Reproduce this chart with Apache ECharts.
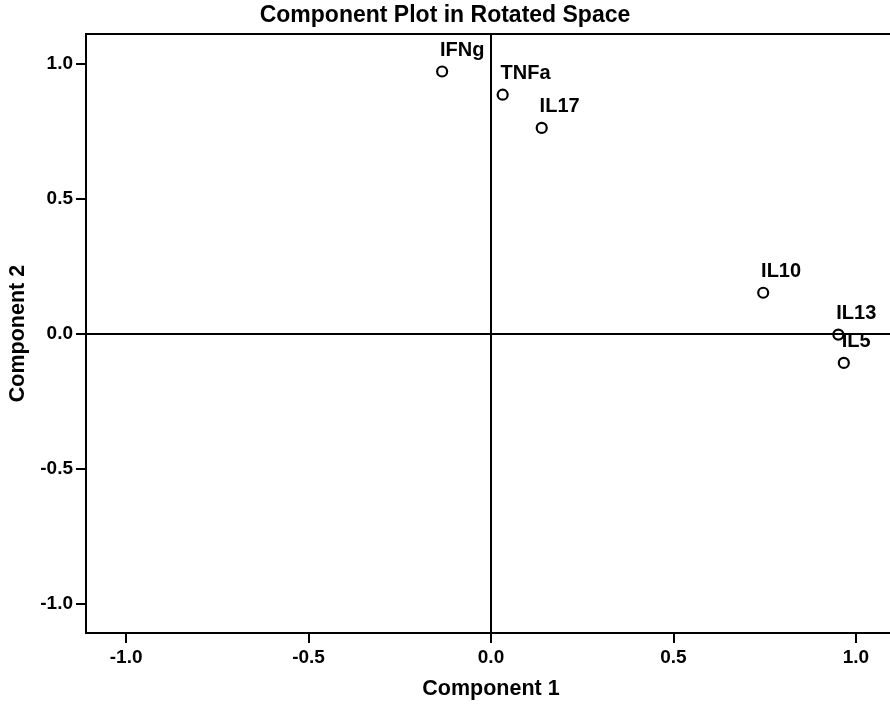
<!DOCTYPE html>
<html>
<head>
<meta charset="utf-8">
<script src="https://cdn.jsdelivr.net/npm/echarts@6/dist/echarts.min.js"></script>
<style>
  html, body { margin: 0; padding: 0; background: #fff; }
  #chart { width: 890px; height: 706px; }
</style>
</head>
<body>
<div id="chart"></div>
<script>
// component loadings
const names = ['IFNg', 'TNFa', 'IL17', 'IL10', 'IL13', 'IL5']
const comp1 = [-0.134, 0.032, 0.139, 0.746, 0.952, 0.967]
const comp2 = [0.971, 0.885, 0.762, 0.151, -0.004, -0.109]
const ticks = [-1.0, -0.5, 0.0, 0.5, 1.0]

const font = 'Liberation Sans, Arial, sans-serif'
const textStyle = {
  fontFamily: font,
  fontWeight: 'bold',
  color: '#000'
}

const chart = echarts.init(document.getElementById('chart'))

function axis(name, gap, rotate, labelMargin) {
  return {
    type: 'value',
    name: name,
    nameLocation: 'middle',
    nameGap: gap,
    nameRotate: rotate,
    nameTextStyle: Object.assign({ fontSize: 21.5 }, textStyle),
    min: -1.11,
    max: 1.11,
    axisLine: { show: true, onZero: false, lineStyle: { color: '#000', width: 2 } },
    axisTick: {
      show: true,
      length: 10,
      customValues: ticks,
      lineStyle: { color: '#000', width: 2 }
    },
    axisLabel: Object.assign({
      fontSize: 19,
      margin: labelMargin,
      customValues: ticks,
      formatter: v => v.toFixed(1)
    }, textStyle),
    splitLine: { show: false }
  }
}

chart.setOption({
  animation: false,
  title: {
    text: 'Component Plot in Rotated Space',
    left: 'center',
    top: -1,
    textStyle: Object.assign({ fontSize: 23 }, textStyle)
  },
  grid: {
    left: 86,
    top: 34,
    width: 810,
    height: 599,
    containLabel: false,
    outerBoundsMode: 'none',
    show: true,
    borderColor: '#000',
    borderWidth: 2
  },
  xAxis: axis('Component 1', 45, 0, 15),
  yAxis: axis('Component 2', 50, 90, 13),
  series: [
    {
      type: 'scatter',
      symbol: 'circle',
      symbolSize: 10,
      itemStyle: { color: '#fff', borderColor: '#000', borderWidth: 2.2, opacity: 1 },
      emphasis: { disabled: true },
      data: names.map((n, i) => ({ name: n, value: [comp1[i], comp2[i]] })),
      label: Object.assign({
        show: true,
        formatter: '{b}',
        position: [4, -15],
        align: 'left',
        verticalAlign: 'middle',
        fontSize: 20
      }, textStyle),
      markLine: {
        silent: true,
        symbol: 'none',
        label: { show: false },
        lineStyle: { color: '#000', width: 2, type: 'solid' },
        data: [{ xAxis: 0 }, { yAxis: 0 }]
      }
    }
  ]
})
</script>
</body>
</html>
